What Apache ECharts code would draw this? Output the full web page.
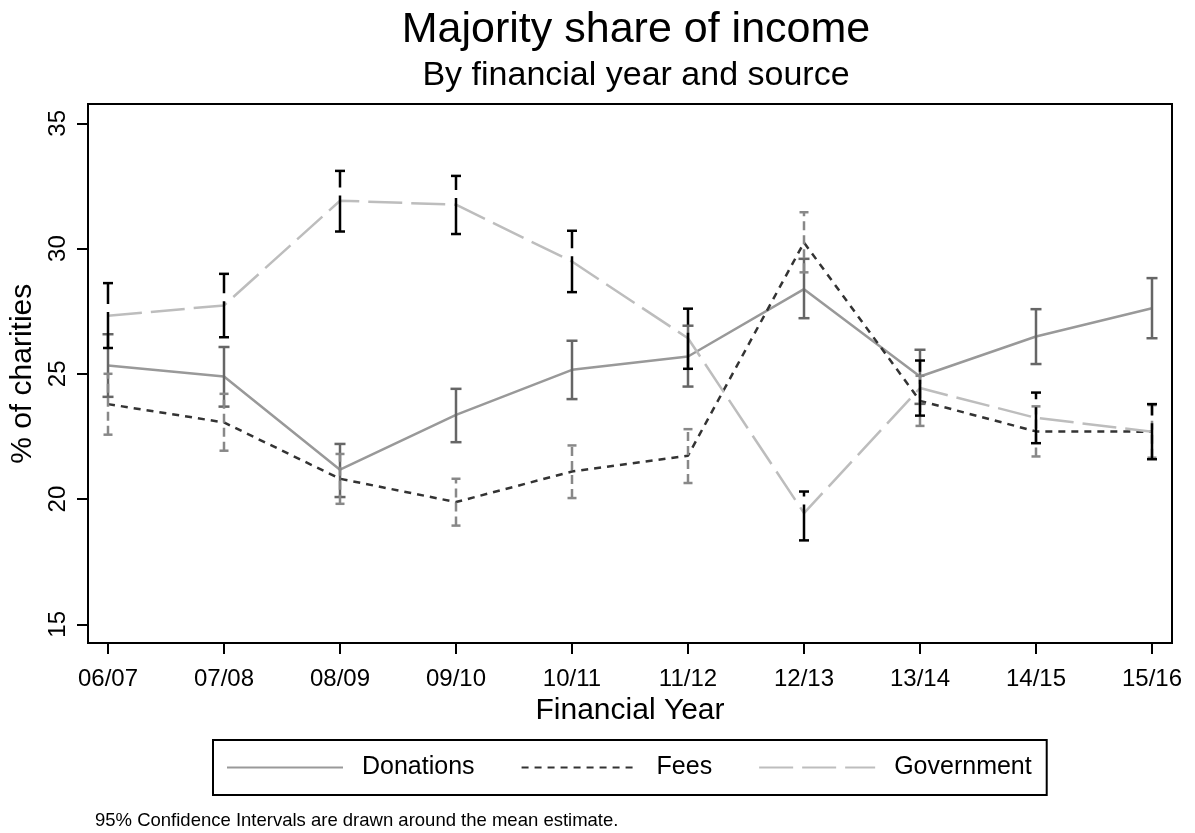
<!DOCTYPE html>
<html>
<head>
<meta charset="utf-8">
<title>Majority share of income</title>
<script src="https://cdn.jsdelivr.net/npm/echarts@6/dist/echarts.min.js"></script>
<style>
  html, body { margin: 0; padding: 0; background: #fff; }
  #chart { width: 1195px; height: 833px; }
</style>
</head>
<body>
<div id="chart"></div>
<script>
// Financial years on the x axis
const years = ['06/07', '07/08', '08/09', '09/10', '10/11', '11/12', '12/13', '13/14', '14/15', '15/16'];

// Mean share of charities (%) with 95% confidence bounds, by main income source
const donationsMean = [25.33, 24.89, 21.17, 23.36, 25.16, 25.69, 28.38, 24.89, 26.49, 27.62];
const donationsLow  = [24.08, 23.69, 20.08, 22.27, 23.99, 24.49, 27.22, 23.80, 25.39, 26.42];
const donationsHigh = [26.58, 26.07, 22.20, 24.40, 26.32, 26.92, 29.59, 25.96, 27.58, 28.82];

const feesMean = [23.79, 23.06, 20.81, 19.88, 21.10, 21.73, 30.24, 23.92, 22.70, 22.69];
const feesLow  = [22.57, 21.93, 19.81, 18.94, 20.04, 20.64, 29.05, 22.92, 21.70, 21.65];
const feesHigh = [25.00, 24.20, 21.80, 20.81, 22.14, 22.79, 31.45, 24.92, 23.70, 23.75];

const govMean = [27.32, 27.73, 31.91, 31.75, 29.48, 26.42, 19.44, 24.43, 23.24, 22.69];
const govLow  = [26.03, 26.46, 30.68, 30.58, 28.26, 25.20, 18.35, 23.33, 22.23, 21.59];
const govHigh = [28.62, 28.99, 33.10, 32.90, 30.71, 27.60, 20.30, 25.53, 24.25, 23.79];

const FONT = 'Liberation Sans, Arial, Helvetica, sans-serif';

// [index, low, high] rows for the interval series
function intervals(low, high) {
  return low.map((v, i) => [i, v, high[i]]);
}

// Draws a vertical interval with caps; the stem is drawn bottom to top
function intervalRenderer(stroke, dash, capWidth) {
  return function (params, api) {
    const i = api.value(0);
    const lo = api.coord([i, api.value(1)]);
    const hi = api.coord([i, api.value(2)]);
    const h = capWidth / 2;
    return {
      type: 'group',
      children: [
        { type: 'line', shape: { x1: lo[0], y1: lo[1], x2: hi[0], y2: hi[1] },
          style: { stroke: stroke, lineWidth: 2.5, lineDash: dash } },
        { type: 'line', shape: { x1: lo[0] - h, y1: lo[1], x2: lo[0] + h, y2: lo[1] },
          style: { stroke: stroke, lineWidth: 2.5 } },
        { type: 'line', shape: { x1: hi[0] - h, y1: hi[1], x2: hi[0] + h, y2: hi[1] },
          style: { stroke: stroke, lineWidth: 2.5 } }
      ]
    };
  };
}

const chart = echarts.init(document.getElementById('chart'), null, { renderer: 'canvas' });

chart.setOption({
  backgroundColor: '#fff',
  animation: false,
  textStyle: { fontFamily: FONT },
  title: [
    { text: 'Majority share of income', left: 631, top: 4, textAlign: 'center',
      textStyle: { fontFamily: FONT, fontSize: 43, fontWeight: 'normal', color: '#000' } },
    { text: 'By financial year and source', left: 631, top: 54, textAlign: 'center',
      textStyle: { fontFamily: FONT, fontSize: 34, fontWeight: 'normal', color: '#000' } },
    { text: '95% Confidence Intervals are drawn around the mean estimate.', left: 90, top: 806,
      textStyle: { fontFamily: FONT, fontSize: 18.5, fontWeight: 'normal', color: '#000' } }
  ],
  legend: {
    data: ['Donations', 'Fees', 'Government'],
    left: 213,
    top: 740,
    orient: 'horizontal',
    itemWidth: 116,
    itemHeight: 25,
    itemGap: 46,
    padding: [15, 15, 15, 13],
    borderColor: '#000',
    borderWidth: 2,
    itemStyle: { opacity: 0 },
    textStyle: { fontFamily: FONT, fontSize: 25, color: '#000', padding: [0, 0, 0, 14] }
  },
  grid: [
    // plotting area
    { left: 108, right: 43, top: 123.3, bottom: 208.7, containLabel: false },
    // framed box around the plot
    { left: 88, right: 23, top: 104, bottom: 190, show: true,
      borderColor: '#000', borderWidth: 2, backgroundColor: 'transparent' }
  ],
  xAxis: [
    {
      type: 'category', gridIndex: 0, data: years, boundaryGap: false,
      offset: 18.7,
      name: 'Financial Year', nameLocation: 'middle', nameGap: 49,
      nameTextStyle: { fontFamily: FONT, fontSize: 30, color: '#000' },
      axisLine: { show: false },
      axisTick: { show: true, length: 11, lineStyle: { color: '#000', width: 2 } },
      axisLabel: { fontFamily: FONT, fontSize: 24, color: '#000', margin: 24, interval: 0 },
      splitLine: { show: false }
    },
    { type: 'value', gridIndex: 1, show: false, min: 0, max: 1 }
  ],
  yAxis: [
    {
      type: 'value', gridIndex: 0, min: 15, max: 35, interval: 5,
      offset: 20,
      name: '% of charities', nameLocation: 'middle', nameGap: 48,
      nameTextStyle: { fontFamily: FONT, fontSize: 30, color: '#000' },
      axisLine: { show: false },
      axisTick: { show: true, length: 11, lineStyle: { color: '#000', width: 2 } },
      axisLabel: { fontFamily: FONT, fontSize: 24, color: '#000', rotate: 90, margin: 18 },
      splitLine: { show: false }
    },
    { type: 'value', gridIndex: 1, show: false, min: 0, max: 1 }
  ],
  series: [
    { name: 'Donations', type: 'line', data: donationsMean, symbol: 'none',
      lineStyle: { color: '#999999', width: 2.5, type: 'solid' },
      itemStyle: { color: '#999999' }, z: 2 },
    { name: 'Fees', type: 'line', data: feesMean, symbol: 'none',
      lineStyle: { color: '#333333', width: 2.5, type: [7, 6] },
      itemStyle: { color: '#333333' }, z: 2 },
    { name: 'Government', type: 'line', data: govMean, symbol: 'none',
      lineStyle: { color: '#bdbdbd', width: 2.5, type: [34, 9] },
      itemStyle: { color: '#bdbdbd' }, z: 2 },
    { name: 'Donations CI', type: 'custom', data: intervals(donationsLow, donationsHigh),
      renderItem: intervalRenderer('#666666', null, 11), z: 3,
      encode: { x: 0, y: [1, 2] } },
    { name: 'Fees CI', type: 'custom', data: intervals(feesLow, feesHigh),
      renderItem: intervalRenderer('#888888', [9, 5], 9), z: 3,
      encode: { x: 0, y: [1, 2] } },
    { name: 'Government CI', type: 'custom', data: intervals(govLow, govHigh),
      renderItem: intervalRenderer('#000000', [36, 8], 10), z: 4,
      encode: { x: 0, y: [1, 2] } }
  ]
});
</script>
</body>
</html>
